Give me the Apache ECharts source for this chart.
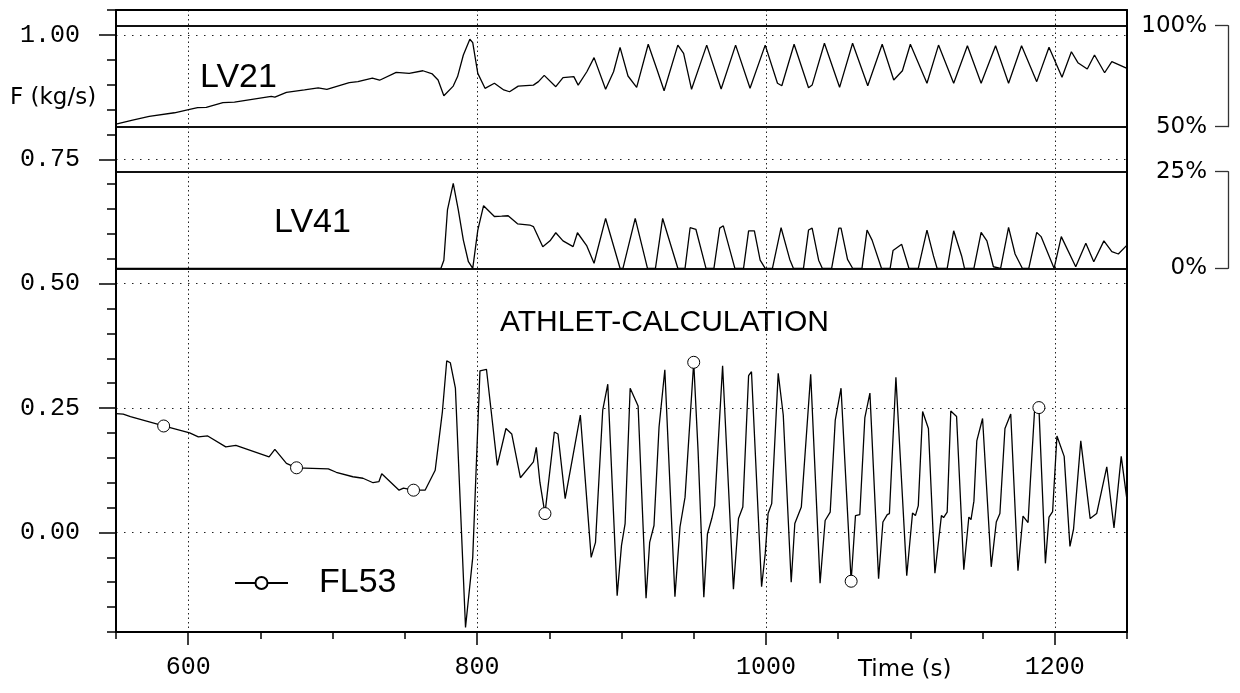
<!DOCTYPE html>
<html><head><meta charset="utf-8">
<script src="https://cdn.jsdelivr.net/npm/echarts@6/dist/echarts.min.js"></script>
<style>html,body{margin:0;padding:0;background:#fff}#c{width:1240px;height:693px}</style>
</head><body><div id="c"></div>
<script>
// ---- data (time in s) ----
const xMajorTicks = [600, 800, 1000, 1200];
const yMajorTicks = [0, 0.25, 0.5, 0.75, 1.0];

// FL53 mass flow (kg/s)
const fl53 = [
 [550,0.239],[555,0.238],[560,0.233],[583,0.214],[601,0.200],[607,0.192],[613.5,0.194],[626,0.172],
 [633,0.175],[656,0.152],[660,0.167],[668,0.139],[675,0.130],[697,0.128],[702.5,0.121],[714,0.112],
 [721,0.109],[728,0.100],[732,0.102],[734,0.118],[746,0.085],[749,0.089],[756,0.085],[764,0.085],
 [771,0.125],[776,0.243],[779,0.345],[781.5,0.341],[785,0.290],[792,-0.191],[797,-0.050],[802,0.325],
 [806.5,0.328],[814,0.135],[820,0.209],[824,0.198],[830,0.110],[839,0.142],[841,0.171],[843.5,0.101],
 [847,0.038],[853.5,0.202],[856,0.198],[861,0.068],[871.5,0.236],[879,-0.050],[882,-0.020],[887,0.246],
 [890.5,0.298],[897,-0.127],[900,-0.026],[902.5,0.018],[906,0.290],[911.5,0.254],[917,-0.132],[919.5,-0.020],
 [922.5,0.014],[926,0.212],[930,0.327],[937,-0.129],[940.5,0.011],[944,0.071],[950,0.342],[953,0.165],
 [957,-0.130],[959.5,-0.003],[962.5,0.028],[964.5,0.054],[970,0.335],[977.5,-0.114],[981,0.028],[984,0.051],
 [988,0.315],[990,0.323],[997,-0.109],[999.5,-0.043],[1001.5,0.038],[1004,0.058],[1008.5,0.320],[1012,0.236],
 [1017.5,-0.100],[1020,0.018],[1024.5,0.051],[1031,0.318],[1037.5,-0.102],[1041,0.024],[1044.5,0.041],[1048,0.226],
 [1052,0.290],[1059,-0.098],[1062,0.034],[1065,0.036],[1068.5,0.231],[1072,0.280],[1078,-0.093],[1081,0.021],
 [1084,0.036],[1085.5,0.038],[1090,0.312],[1097.5,-0.087],[1101.5,0.039],[1103.5,0.034],[1105.5,0.054],[1108.5,0.243],
 [1112.5,0.209],[1117,-0.082],[1121.5,0.034],[1123,0.030],[1125.5,0.041],[1128,0.244],[1132,0.233],[1137,-0.075],
 [1140.5,0.031],[1142,0.026],[1144,0.063],[1146,0.184],[1150,0.229],[1156,-0.069],[1159.5,0.021],[1162,0.038],
 [1165.5,0.209],[1169.5,0.238],[1174.5,-0.077],[1178,0.033],[1181.5,0.020],[1183,0.098],[1186,0.245],[1189,0.251],
 [1193.5,-0.062],[1196,0.031],[1198.5,0.042],[1201.5,0.194],[1206.5,0.153],[1210.5,-0.028],[1213,0.007],[1218,0.184],
 [1224.5,0.028],[1229,0.038],[1236,0.132],[1241,0.009],[1246,0.153],[1250,0.065]
];
const fl53MarkerTimes = [583, 675, 756, 847, 950, 1059, 1189];

// LV21 valve position (%)
const lv21 = [
 [550,51.3],[561.5,53.3],[573,55.1],[590.5,56.9],[601,58.6],[606.5,59.4],[612.5,59.6],[624,61.9],[632,62.2],
 [657.5,65.0],[660,64.6],[668,67.0],[680.5,68.2],[690,69.2],[696,68.5],[711.5,71.8],[717.5,72.3],[727.5,74.0],
 [732.5,73.0],[744,76.9],[753,76.4],[762.5,77.7],[769,76.1],[773,73.1],[777,65.3],[783.5,70.1],[786.5,74.8],
 [790.5,85.5],[795,93.3],[797,91.6],[800.5,76.4],[805.5,69.0],[812,71.5],[818.5,68.2],[822.5,67.3],[828.5,70.1],
 [839,70.6],[842.5,72.3],[846.5,75.4],[854.5,69.8],[859.5,74.3],[867,74.8],[870,70.6],[876,77.2],[881,84.2],
 [889,68.5],[894.5,77.2],[899,89.3],[904.5,75.1],[910.5,69.5],[918.5,90.8],[924.5,78.4],[929.5,67.8],[939,90.4],
 [943,86.3],[948.5,68.5],[959,90.4],[969,68.7],[979,90.4],[989,69.0],[999.5,90.4],[1008,71.5],[1011,70.3],
 [1019.5,90.8],[1029.5,69.3],[1032,70.6],[1040.5,91.3],[1051,69.5],[1060,91.3],[1070.5,70.3],[1080.5,90.8],
 [1088.5,73.1],[1094.5,77.7],[1100,90.8],[1111.5,71.5],[1119.5,90.4],[1130,71.5],[1139.5,90.1],[1149,71.5],
 [1159,90.1],[1168,71.5],[1177,90.1],[1187.5,72.3],[1196,89.3],[1205,74.5],[1211.5,87.1],[1216,81.7],
 [1222.5,78.6],[1227.5,85.5],[1234.5,76.7],[1239.5,82.2],[1250,78.9]
];

// LV41 valve position (%)
const lv41 = [
 [550,0],[775,0],[777,2.1],[779.5,15.1],[783.5,22.0],[787,15.1],[790.5,7.3],[794,1.7],[797,0],[800.5,9.9],
 [804.5,16.2],[812,13.4],[817,13.5],[821.5,13.6],[828,11.5],[836.5,11.2],[839,10.8],[845.5,5.6],[850.5,7.1],
 [854.5,9.2],[859.5,7.1],[866.5,5.6],[869.5,9.2],[876,5.8],[881,1.3],[889,12.9],[899,0],[901,0],[909.5,12.9],
 [918,0],[923.5,0],[928.5,12.9],[939,0],[944,0],[947.5,10.5],[951.5,10.1],[958.5,0],[964,0],[968,10.4],
 [970.5,11.0],[978.5,0],[984.5,0],[988,9.7],[992,9.7],[996,2.1],[999.5,0],[1004.5,0],[1010.5,10.5],[1016.5,2.3],
 [1019,0],[1026,0],[1029.5,9.9],[1032,10.4],[1036.5,2.1],[1039,0],[1045.5,0],[1050.5,10.4],[1052,10.4],
 [1056.5,2.3],[1060,0],[1066.5,0],[1070,9.9],[1073.5,7.3],[1080,0],[1086,0],[1088,4.6],[1094,6.2],[1099,0],
 [1105.5,0],[1111.5,9.9],[1116,3.2],[1118.5,0],[1125.5,0],[1130,9.7],[1135.5,3.2],[1137.5,0],[1144,0],
 [1149,9.3],[1153,7.1],[1157.5,0.4],[1162.5,0],[1168,10.6],[1172.5,3.7],[1177.5,0],[1182,0],[1187.5,9.3],
 [1190.5,8.2],[1199.5,0],[1204.5,8.2],[1214.5,0.4],[1221.5,6.5],[1227,1.7],[1234,7.1],[1239.5,4.3],
 [1244,3.7],[1250,6.0]
];

const texts = {
  yName: 'F (kg/s)', xName: 'Time (s)', lv21: 'LV21', lv41: 'LV41',
  title: 'ATHLET-CALCULATION', fl53: 'FL53'
};

// ---- chart ----
const chart = echarts.init(document.getElementById('c'), null, {renderer: 'canvas'});
const BLK = '#000';
const monoLbl = {fontFamily: '"Liberation Mono", monospace', fontSize: 25, color: BLK};
const xBase = {type: 'value', min: 550, max: 1250, interval: 50};
const yF = {type: 'value', min: -0.2, max: 1.05};
const isMajor = v => yMajorTicks.some(m => Math.abs(m - v) < 1e-6);

const pctAxis = (grid, mn, mx) => ({
  type: 'value', gridIndex: grid, min: mn, max: mx, interval: mx - mn, position: 'right', offset: 101,
  axisLine: {show: true, onZero: false, lineStyle: {color: '#333', width: 1.3}},
  axisTick: {show: true, inside: true, length: 13, lineStyle: {color: '#333', width: 1.3}},
  axisLabel: {show: true, inside: true, margin: 21, formatter: '{value}%', showMinLabel: true, showMaxLabel: true,
              fontFamily: '"DejaVu Sans", sans-serif', fontSize: 23, color: BLK},
  splitLine: {show: true, lineStyle: {color: '#111', width: 2, type: 'solid'}}
});

const option = {
  animation: false,
  backgroundColor: '#fff',
  grid: [
    {left: 116, right: 113, top: 10, bottom: 61},
    {left: 116, right: 113, top: 25.7, bottom: 566.3},
    {left: 116, right: 113, top: 171.7, bottom: 424.7}
  ],
  xAxis: [
    Object.assign({}, xBase, {gridIndex: 0, position: 'bottom',
      axisLine: {show: true, onZero: false, lineStyle: {color: BLK, width: 2}},
      axisTick: {show: true, length: 7, lineStyle: {color: BLK, width: 1.5}},
      axisLabel: {show: false}, splitLine: {show: false}}),
    Object.assign({}, xBase, {gridIndex: 0, position: 'bottom',
      axisLine: {show: false, onZero: false},
      axisTick: {show: true, customValues: xMajorTicks, length: 13, lineStyle: {color: BLK, width: 1.5}},
      axisLabel: Object.assign({show: true, customValues: xMajorTicks, margin: 23, formatter: v => String(v)}, monoLbl),
      splitLine: {show: true, lineStyle: {color: '#222', width: 1, type: [1.5, 3]}}}),
    Object.assign({}, xBase, {gridIndex: 0, position: 'top',
      axisLine: {show: true, onZero: false, lineStyle: {color: BLK, width: 2}},
      axisTick: {show: false}, axisLabel: {show: false}, splitLine: {show: false}}),
    Object.assign({}, xBase, {gridIndex: 1, show: false}),
    Object.assign({}, xBase, {gridIndex: 2, show: false})
  ],
  yAxis: [
    Object.assign({}, yF, {gridIndex: 0, position: 'left', interval: 0.05,
      axisLine: {show: true, onZero: false, lineStyle: {color: BLK, width: 2}},
      axisTick: {show: true, length: 9, lineStyle: {color: BLK, width: 1.5}},
      axisLabel: {show: false}, splitLine: {show: false}}),
    Object.assign({}, yF, {gridIndex: 0, position: 'left',
      axisLine: {show: false, onZero: false},
      axisTick: {show: true, customValues: yMajorTicks, length: 17, lineStyle: {color: BLK, width: 1.5}},
      axisLabel: Object.assign({show: true, customValues: yMajorTicks, margin: 36,
        formatter: v => isMajor(v) ? v.toFixed(2) : ''}, monoLbl),
      splitLine: {show: true, lineStyle: {color: '#222', width: 1, type: [1.5, 6.5]}}}),
    Object.assign({}, yF, {gridIndex: 0, position: 'right',
      axisLine: {show: true, onZero: false, lineStyle: {color: BLK, width: 2}},
      axisTick: {show: false}, axisLabel: {show: false}, splitLine: {show: false}}),
    pctAxis(1, 50, 100),
    pctAxis(2, 0, 25)
  ],
  legend: {
    data: [texts.fl53], left: 229, top: 561, itemWidth: 53, itemHeight: 15, selectedMode: false,
    textStyle: {fontFamily: '"Liberation Sans", Arial, sans-serif', fontSize: 34, color: BLK, padding: [0, 0, 0, 26]}
  },
  series: [
    {
      name: texts.fl53, type: 'line', xAxisIndex: 0, yAxisIndex: 0, z: 5,
      symbol: 'circle', symbolSize: 12, showSymbol: true,
      itemStyle: {color: '#fff', borderColor: BLK, borderWidth: 1},
      lineStyle: {color: BLK, width: 1.3},
      data: fl53.map(p => fl53MarkerTimes.includes(p[0]) ? {value: p} : {value: p, symbol: 'none'})
    },
    {
      name: texts.lv21, type: 'line', xAxisIndex: 3, yAxisIndex: 3, symbol: 'none',
      lineStyle: {color: BLK, width: 1.3}, data: lv21
    },
    {
      name: texts.lv41, type: 'line', xAxisIndex: 4, yAxisIndex: 4, symbol: 'none',
      lineStyle: {color: BLK, width: 1.3}, data: lv41
    }
  ],
  graphic: [
    {type: 'text', x: 10, y: 98, style: {text: texts.yName, font: '23px "DejaVu Sans"', fill: BLK, align: 'left', verticalAlign: 'middle'}},
    {type: 'text', x: 200, y: 78, style: {text: texts.lv21, font: '34px "Liberation Sans"', fill: BLK, align: 'left', verticalAlign: 'middle'}},
    {type: 'text', x: 274, y: 222.5, style: {text: texts.lv41, font: '34px "Liberation Sans"', fill: BLK, align: 'left', verticalAlign: 'middle'}},
    {type: 'text', x: 500, y: 323, style: {text: texts.title, font: '30px "Liberation Sans"', fill: BLK, align: 'left', verticalAlign: 'middle'}},
    {type: 'text', x: 858, y: 670.5, style: {text: texts.xName, font: '23px "DejaVu Sans"', fill: BLK, align: 'left', verticalAlign: 'middle'}}
  ]
};
chart.setOption(option);
</script>
</body></html>
